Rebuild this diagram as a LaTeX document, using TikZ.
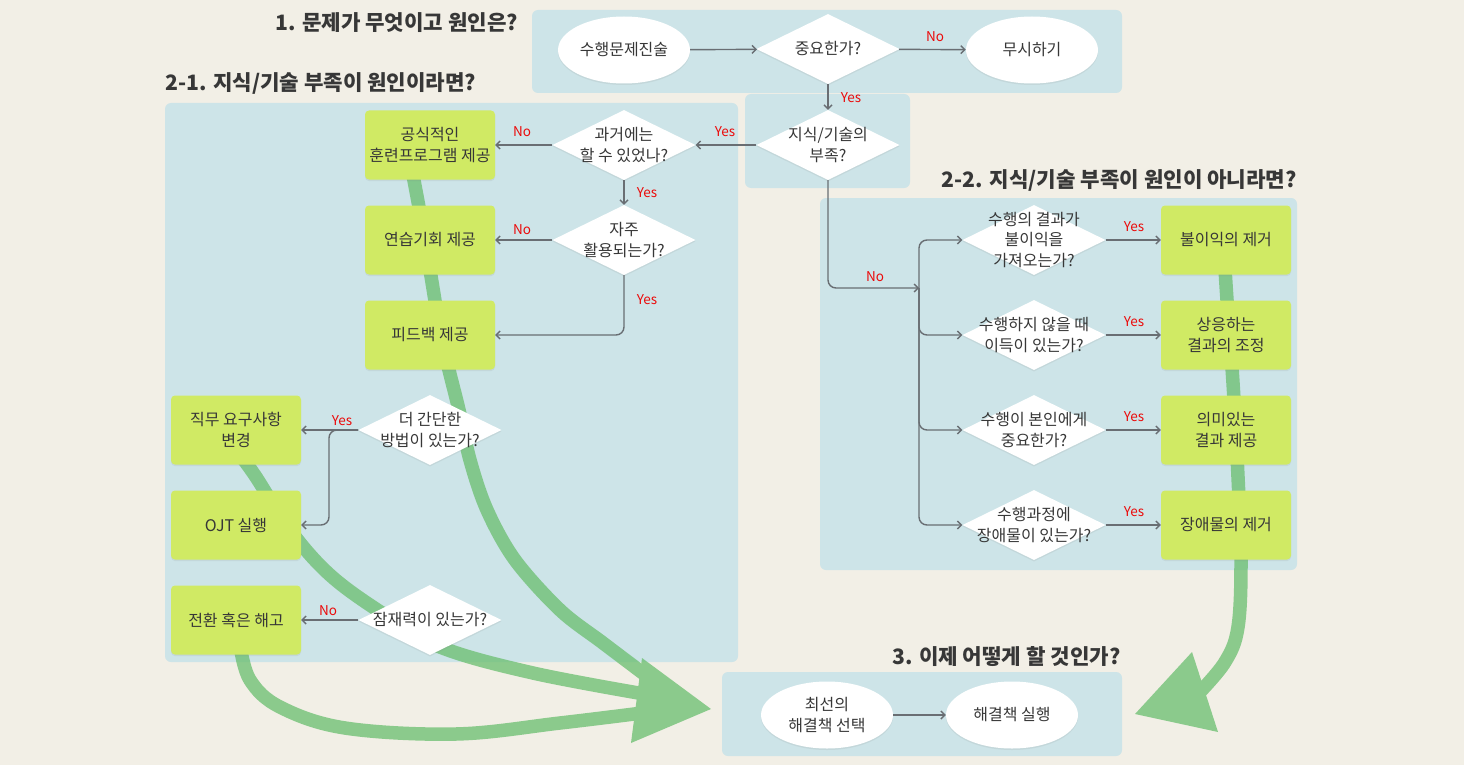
\documentclass[tikz,border=0pt]{standalone}
\usepackage{fontspec}
\setmainfont{Noto Sans CJK KR}
\usetikzlibrary{shapes.geometric,arrows.meta,shadows}
\definecolor{bg}{RGB}{242,239,230}
\definecolor{panel}{RGB}{205,228,232}
\definecolor{boxc}{RGB}{208,234,100}
\definecolor{txt}{RGB}{55,55,55}
\definecolor{linec}{RGB}{105,110,115}
\definecolor{yesno}{RGB}{235,10,10}
\definecolor{shaft}{RGB}{105,190,110}
\tikzset{
 shd/.style={drop shadow={opacity=0.13,shadow xshift=0pt,shadow yshift=-1.5pt}},
 box/.style={rectangle, rounded corners=4pt, fill=boxc, minimum width=130pt, minimum height=69pt, inner sep=0pt, align=center, font=\fontsize{16}{21}\selectfont, text=txt, shd},
 oval/.style={ellipse, fill=white, minimum width=132pt, minimum height=67pt, inner sep=0pt, shd},
 dia/.style={diamond, fill=white, minimum width=143pt, minimum height=70pt, inner sep=0pt, shd},
 dtext/.style={align=center, font=\fontsize{16}{20.5}\selectfont, text=txt, inner sep=0pt},
 conn/.style={draw=linec, line width=1.4pt, -{Straight Barb[length=4pt,width=8pt]}},
 lbl/.style={text=yesno, font=\fontsize{13.5}{14}\selectfont, inner sep=0pt},
 ttl/.style={text=txt, font=\fontsize{21.2}{24}\selectfont\bfseries, inner sep=0pt},
 pnl/.style={fill=panel, rounded corners=6pt},
 shaftline/.style={draw=shaft, line width=13.5pt},
}
\begin{document}
\begin{tikzpicture}[x=1pt,y=-1pt]
\useasboundingbox (0,0) rectangle (1464,765);
\fill[bg] (0,0) rectangle (1464,765);
% panels
\fill[pnl] (532,10) rectangle (1122,93);
\fill[pnl] (745,94) rectangle (910,188);
\fill[pnl] (165,103) rectangle (738,662);
\fill[pnl] (820,198) rectangle (1297,570);
\fill[pnl] (722,672) rectangle (1122,756);
% green flow arrows
\begin{scope}[transparency group, opacity=0.75]
 \draw[shaftline] plot[smooth, tension=0.55] coordinates {(412,170) (425,240) (440,330) (449,370) (459,410) (470,460) (487,510) (515,560) (560,610) (603,643) (652,680)};
 \draw[shaftline] plot[smooth, tension=0.6] coordinates {(240,455) (256,477) (290,530) (330,575) (382,613) (440,647) (533,673) (650,695)};
 \draw[shaftline] plot[smooth, tension=0.6] coordinates {(240,645) (250,680) (280,707) (345,728) (456,734) (560,723) (650,712)};
 \fill[shaft] (642,658) -- (711,709) -- (631,743) -- cycle;
 \draw[shaftline] plot[smooth, tension=0.6] coordinates {(1225,268) (1227,300) (1233,383) (1238,477) (1241,560) (1238,627) (1225,662) (1198,694)};
 \fill[shaft] (1192,652) -- (1135,714) -- (1218,732) -- cycle;
\end{scope}
% titles
\node[ttl, anchor=west] (t1) at (275,23) {1. 문제가 무엇이고 원인은?};
\node[ttl, anchor=west] (t21) at (165,83) {2-1. 지식/기술 부족이 원인이라면?};
\node[ttl, anchor=east] (t22) at (1297,180) {2-2. 지식/기술 부족이 원인이 아니라면?};
\node[ttl, anchor=west] (t3) at (892,657) {3. 이제 어떻게 할 것인가?};
% top
\node[oval] (s) at (624,50) {};
\node[dtext] (st) at (s) {수행문제진술};
\node[dia] (imp) at (828,49) {};
\node[dtext] (impt) at (imp) {중요한가?};
\node[oval] (ign) at (1032,50) {};
\node[dtext] (ignt) at (ign) {무시하기};
\node[dia] (lack) at (828,145) {};
\node[dtext] (lackt) at (lack) {지식/기술의\\부족?};
% left
\node[dia] (past) at (624,145) {};
\node[dtext] (pastt) at (past) {과거에는\\할 수 있었나?};
\node[box] (train) at (430,145) {공식적인\\훈련프로그램 제공};
\node[dia] (freq) at (624,240) {};
\node[dtext] (freqt) at (freq) {자주\\활용되는가?};
\node[box] (prac) at (430,240) {연습기회 제공};
\node[box] (fb) at (430,335) {피드백 제공};
\node[box] (job) at (236,430) {직무 요구사항\\변경};
\node[box] (ojt) at (236,525) {OJT 실행};
\node[box] (fire) at (236,620) {전환 혹은 해고};
\node[dia] (simp) at (430,430) {};
\node[dtext] (simpt) at (simp) {더 간단한\\방법이 있는가?};
\node[dia] (pot) at (430,620) {};
\node[dtext] (pott) at (pot) {잠재력이 있는가?};
% right
\coordinate (jn) at (919,288);
\node[dia] (r1) at (1034,240) {};
\node[dtext] (r1t) at (r1) {수행의 결과가\\불이익을\\가져오는가?};
\node[dia] (r2) at (1034,335) {};
\node[dtext] (r2t) at (r2) {수행하지 않을 때\\이득이 있는가?};
\node[dia] (r3) at (1034,430) {};
\node[dtext] (r3t) at (r3) {수행이 본인에게\\중요한가?};
\node[dia] (r4) at (1034,525) {};
\node[dtext] (r4t) at (r4) {수행과정에\\장애물이 있는가?};
\node[box] (b1) at (1226,240) {불이익의 제거};
\node[box] (b2) at (1226,335) {상응하는\\결과의 조정};
\node[box] (b3) at (1226,430) {의미있는\\결과 제공};
\node[box] (b4) at (1226,525) {장애물의 제거};
% bottom
\node[oval] (best) at (827,715) {};
\node[dtext] (bestt) at (best) {최선의\\해결책 선택};
\node[oval] (exec) at (1012,715) {};
\node[dtext] (exect) at (exec) {해결책 실행};
% connectors
\draw[conn] (s) -- (imp);
\draw[conn] (imp) -- (ign);
\draw[conn] (imp) -- (lack);
\draw[conn] (lack) -- (past);
\draw[conn] (past) -- (train);
\draw[conn] (past) -- (freq);
\draw[conn] (freq) -- (prac);
\draw[conn, rounded corners=8pt] (freq.south) |- (fb.east);
\draw[conn] (simp.west) -- (job.east);
\coordinate (sb) at (329,430);
\draw[conn, rounded corners=8pt] (simp.west) -- (sb) |- (ojt.east);
\draw[conn] (pot) -- (fire);
\draw[conn, rounded corners=8pt] (lack.south) |- (jn);
\draw[conn, rounded corners=8pt] (jn) |- (r1.west);
\draw[conn, rounded corners=8pt] (jn) |- (r2.west);
\draw[conn, rounded corners=8pt] (jn) |- (r3.west);
\draw[conn, rounded corners=8pt] (jn) |- (r4.west);
\draw[conn] (r1) -- (b1);
\draw[conn] (r2) -- (b2);
\draw[conn] (r3) -- (b3);
\draw[conn] (r4) -- (b4);
\draw[conn] (best) -- (exec);
% yes/no labels
\node[lbl] (l1) at (935,37) {No};
\node[lbl] (l2) at (851,98) {Yes};
\node[lbl] (l3) at (725,132) {Yes};
\node[lbl] (l4) at (522,132) {No};
\node[lbl] (l5) at (647,193) {Yes};
\node[lbl] (l6) at (522,230) {No};
\node[lbl] (l7) at (647,300) {Yes};
\node[lbl] (l8) at (342,421) {Yes};
\node[lbl] (l9) at (328,611) {No};
\node[lbl] (l10) at (875,277) {No};
\node[lbl] (l11) at (1134,227) {Yes};
\node[lbl] (l12) at (1134,322) {Yes};
\node[lbl] (l13) at (1134,417) {Yes};
\node[lbl] (l14) at (1134,512) {Yes};
\end{tikzpicture}
\end{document}
